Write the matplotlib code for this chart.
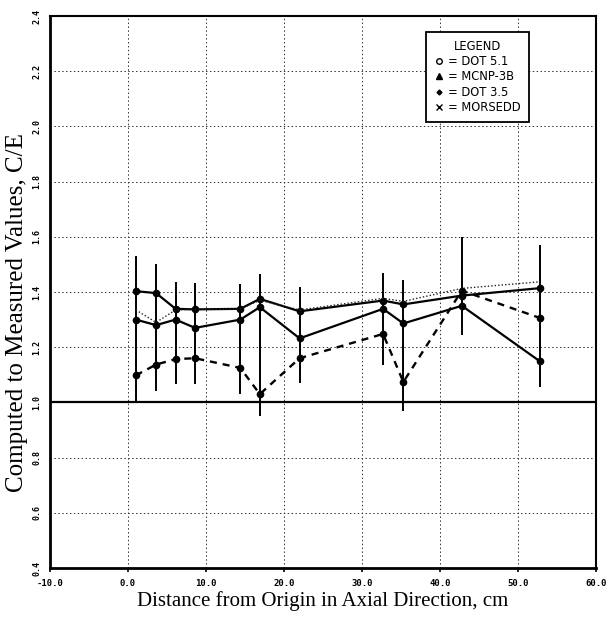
import matplotlib
matplotlib.use("Agg")
import matplotlib.pyplot as plt
from matplotlib.lines import Line2D

# ---- data ----
x_pos = [1.0, 3.6, 6.1, 8.6, 14.4, 16.9, 22.0, 32.7, 35.3, 42.8, 52.8]
dot51 = [1.403, 1.396, 1.339, 1.337, 1.339, 1.375, 1.330, 1.369, 1.355, 1.387, 1.414]
mcnp3b = [1.300, 1.280, 1.300, 1.270, 1.300, 1.345, 1.232, 1.339, 1.286, 1.350, 1.149]
dot35 = [1.098, 1.137, 1.157, 1.160, 1.125, 1.030, 1.160, 1.248, 1.074, 1.405, 1.306]
morsedd = [1.335, 1.290, 1.335, 1.337, 1.339, 1.370, 1.335, 1.377, 1.366, 1.413, 1.437]
err_low = [1.000, 1.040, 1.065, 1.068, 1.030, 0.950, 1.070, 1.137, 0.970, 1.246, 1.054]
err_high = [1.530, 1.500, 1.437, 1.432, 1.430, 1.464, 1.417, 1.470, 1.444, 1.600, 1.570]

x_ticks = [-10, 0, 10, 20, 30, 40, 50, 60]
x_ticklabels = ["-10.0", "0.0", "10.0", "20.0", "30.0", "40.0", "50.0", "60.0"]
y_ticks = [0.4, 0.6, 0.8, 1.0, 1.2, 1.4, 1.6, 1.8, 2.0, 2.2, 2.4]
y_ticklabels = ["0.4", "0.6", "0.8", "1.0", "1.2", "1.4", "1.6", "1.8", "2.0", "2.2", "2.4"]
legend_labels = ["= DOT 5.1", "= MCNP-3B", "= DOT 3.5", "= MORSEDD"]

fig = plt.figure(figsize=(6.09, 6.19), dpi=100)
ax = fig.add_axes([50 / 609, 1 - 568 / 619, 546 / 609, 552 / 619])

ax.set_xlim(-10, 60)
ax.set_ylim(0.4, 2.4)

# grid
grid_style = dict(color="#333333", linewidth=0.7, linestyle=(0, (1.5, 2.5)))
for xv in x_ticks[1:-1]:
    ax.axvline(xv, **grid_style, zorder=1)
for yv in y_ticks[1:-1]:
    if abs(yv - 1.0) > 1e-9:
        ax.axhline(yv, **grid_style, zorder=1)
ax.axhline(1.0, color="black", linewidth=1.6, zorder=2)

# error bars
ax.vlines(x_pos, err_low, err_high, color="black", linewidth=1.4, zorder=3)

# series
ax.plot(x_pos, dot51, color="black", linewidth=1.6, marker="o", markersize=4.5, zorder=4)
ax.plot(x_pos, mcnp3b, color="black", linewidth=1.6, marker="o", markersize=4.5, zorder=4)
ax.plot(x_pos, dot35, color="black", linewidth=1.7, linestyle=(0, (3, 2.5)),
        marker="o", markersize=4.5, zorder=4)
ax.plot(x_pos, morsedd, color="#222222", linewidth=1.0, linestyle=(0, (1, 1.5)), zorder=4)

# ticks
ax.set_xticks(x_ticks)
ax.set_xticklabels(x_ticklabels, family="DejaVu Sans Mono", fontsize=6.5, fontweight="bold")
ax.set_yticks(y_ticks)
ax.set_yticklabels(y_ticklabels, family="DejaVu Sans Mono", fontsize=6, fontweight="bold",
                   rotation=90, va="center")
ax.tick_params(axis="x", direction="out", length=3, width=1.2, pad=5)
ax.tick_params(axis="y", length=0, pad=6)

for side, lw in [("left", 2.0), ("bottom", 2.0), ("top", 1.5), ("right", 1.5)]:
    ax.spines[side].set_linewidth(lw)

ax.set_xlabel("Distance from Origin in Axial Direction, cm", family="Liberation Serif",
              fontsize=15, labelpad=2)
ax.set_ylabel("Computed to Measured Values, C/E", family="Liberation Serif",
              fontsize=18)
ax.yaxis.set_label_coords(-0.041, 0.462)

# legend
handles = [
    Line2D([], [], marker="o", mfc="white", mec="black", color="black", ls="none", markersize=4),
    Line2D([], [], marker="^", color="black", ls="none", markersize=4),
    Line2D([], [], marker="D", color="black", ls="none", markersize=2.5),
    Line2D([], [], marker="x", color="black", ls="none", markersize=4),
]
leg = ax.legend(handles, legend_labels, title="LEGEND", loc="upper left",
                bbox_to_anchor=(0.678, 0.982), fontsize=8.3, title_fontsize=8.3,
                handlelength=0.8, handletextpad=0.4, fancybox=False, framealpha=1,
                edgecolor="black", borderpad=0.7, labelspacing=0.2)
leg.get_frame().set_linewidth(1.3)
for t in leg.get_texts():
    t.set_family("DejaVu Sans")

fig.savefig("out.png", dpi=100)
